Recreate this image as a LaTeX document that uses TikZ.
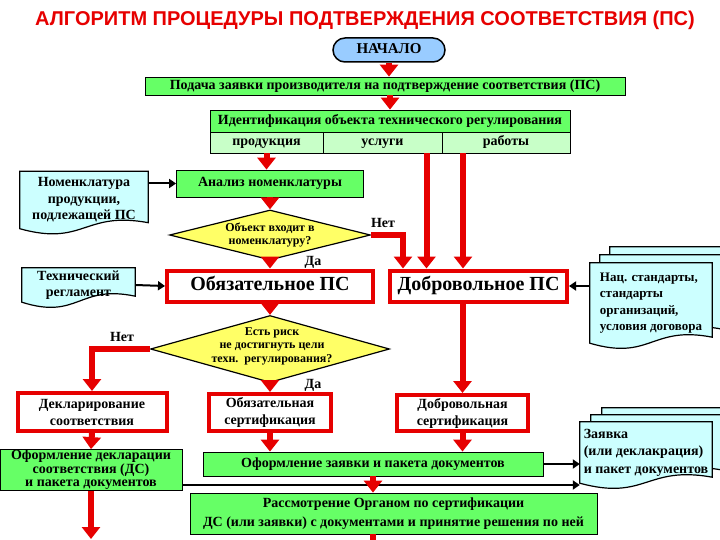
\documentclass[tikz,border=0pt]{standalone}
\usepackage{fontspec}
\setmainfont{Liberation Serif}
\newfontfamily\titlefont{Liberation Sans}
\usetikzlibrary{arrows.meta,shapes.geometric,shapes.misc,calc,backgrounds}
\definecolor{boxgreen}{RGB}{102,255,102}
\definecolor{cellgreen}{RGB}{200,255,200}
\definecolor{doccyan}{RGB}{204,255,255}
\definecolor{askyellow}{RGB}{255,255,102}
\definecolor{startblue}{RGB}{153,204,255}
\definecolor{flowred}{RGB}{230,0,0}
% document sheet behind a node: #1 node, #2 #3 shift of the sheet
\newcommand{\docsheet}[3]{%
\begin{scope}[on background layer]
\filldraw[docline] ([shift={(#2,#3)}]#1.north west) -- ([shift={(#2,#3)}]#1.north east)
  -- ([shift={(#2,#3+6pt)}]#1.south east)
  .. controls ($(#1.south)+(#2,#3+18pt)$) and ($(#1.south)+(#2,#3-18pt)$) .. ([shift={(#2,#3)}]#1.south west) -- cycle;
\end{scope}}
\begin{document}
\begin{tikzpicture}[x=1pt,y=-1pt,
% common options for boxes:
greenbox/.style = {draw, line width=0.8pt, fill=boxgreen, align=center, inner sep=0,
            font=\bfseries\fontsize{14}{15}\selectfont},
cell/.style = {greenbox, fill=cellgreen},
oneline/.style = {text height=9.5pt, text depth=3pt},
redbox/.style = {draw=flowred, line width=4pt, fill=white, align=center, inner sep=0,
            font=\bfseries\fontsize{14}{17}\selectfont},
bigred/.style = {redbox, text height=13.5pt, text depth=4pt, font=\bfseries\fontsize{20}{22}\selectfont},
docbox/.style = {align=center, inner sep=2pt, font=\bfseries\fontsize{14}{16.5}\selectfont},
docline/.style = {draw, line width=1.2pt, fill=doccyan},
% common options for the decisions:
ask/.style = {diamond, draw, line width=1.2pt, fill=askyellow, inner sep=0},
asktext/.style = {align=center, inner sep=0, font=\bfseries\fontsize{12}{13.5}\selectfont},
answer/.style = {font=\bfseries\fontsize{14}{15}\selectfont},
% common options for arrows:
redarrow/.style = {draw=flowred, line width=6pt, -{Triangle[length=12pt,width=18pt]}},
blackarrow/.style = {draw, line width=2pt, -{Triangle[length=7pt,width=9pt]}}]
\useasboundingbox (0,0) rectangle (720,540);
\node[font=\titlefont\bfseries\fontsize{20}{22}\selectfont, text=flowred] (title) at (365,20) {АЛГОРИТМ ПРОЦЕДУРЫ ПОДТВЕРЖДЕНИЯ СООТВЕТСТВИЯ (ПС)};
\node[rounded rectangle, draw, line width=1.5pt, fill=startblue, minimum width=112pt, minimum height=24pt,
      inner sep=0, text height=10pt, text depth=2pt, font=\bfseries\fontsize{15}{16}\selectfont] (start) at (389,50) {НАЧАЛО};
\node[greenbox, oneline, minimum width=480pt, minimum height=18pt] (request) at (385,86) {Подача заявки производителя на подтверждение соответствия (ПС)};
\node[greenbox, oneline, minimum width=360pt, minimum height=22pt] (ident) at (390,121) {Идентификация объекта технического регулирования};
\node[cell, oneline, minimum width=113pt, minimum height=21pt] (product) at (266.5,142.5) {продукция};
\node[cell, oneline, minimum width=119pt, minimum height=21pt] (service) at (382.5,142.5) {услуги};
\node[cell, oneline, minimum width=128pt, minimum height=21pt] (works) at (506,142.5) {работы};
\node[docbox, minimum width=128pt, minimum height=57pt] (nomen) at (84,200) {Номенклатура\\продукции,\\подлежащей ПС};
\node[greenbox, oneline, minimum width=187pt, minimum height=27pt] (analysis) at (270,183.5) {Анализ номенклатуры};
\node[ask, minimum width=201pt, minimum height=50pt] (inlist) at (270,235) {};
\node[asktext] (inlisttext) at (270,235) {Объект входит в\\номенклатуру?};
\node[bigred, minimum width=206pt, minimum height=31pt] (mandatory) at (270,286) {Обязательное ПС};
\node[bigred, minimum width=177pt, minimum height=31pt] (voluntary) at (478.5,286) {Добровольное ПС};
\node[docbox, minimum width=113pt, minimum height=34pt] (techreg) at (78.5,285) {Технический\\регламент};
\node[docbox, align=left, minimum width=122pt, minimum height=80pt, font=\bfseries\fontsize{13}{16.5}\selectfont] (standards) at (651,303) {Нац. стандарты,\\стандарты\\организаций,\\условия договора};
\node[ask, minimum width=239pt, minimum height=67pt] (risk) at (270,349) {};
\node[asktext] (risktext) at (272,346) {Есть риск\\не достигнуть цели\\техн.~~регулирования?};
\node[redbox, minimum width=149pt, minimum height=38pt] (declare) at (92,412) {Декларирование\\соответствия};
\node[redbox, minimum width=122pt, minimum height=37pt] (mandcert) at (270,412.5) {Обязательная\\сертификация};
\node[redbox, minimum width=131pt, minimum height=36pt] (volcert) at (462.5,413) {Добровольная\\сертификация};
\node[greenbox, minimum width=182pt, minimum height=41pt, font=\bfseries\fontsize{14}{13.5}\selectfont] (declpack) at (91,470) {Оформление декларации\\соответствия (ДС)\\и пакета документов};
\node[greenbox, oneline, minimum width=340pt, minimum height=24pt] (reqpack) at (373,464) {Оформление заявки и пакета документов};
\node[docbox, align=left, minimum width=132pt, minimum height=61pt, font=\bfseries\fontsize{14}{17.5}\selectfont] (package) at (646,452.5) {Заявка\\(или деклакрация)\\и пакет документов};
\node[greenbox, minimum width=407pt, minimum height=41pt, font=\bfseries\fontsize{14}{19}\selectfont] (review) at (393.5,513.5) {Рассмотрение Органом по сертификации\\ДС (или заявки) с документами и принятие решения по ней};
\coordinate (declout) at (91,539);
\coordinate (reviewout) at (373,600);
\node[answer] (no1) at (383,223) {Нет};
\node[answer] (yes1) at (313,262) {Да};
\node[answer] (no2) at (122,337) {Нет};
\node[answer] (yes2) at (313,385) {Да};
% sheets of the documents
\docsheet{nomen}{0pt}{0pt}
\docsheet{techreg}{0pt}{0pt}
\docsheet{standards}{20pt}{16pt}
\docsheet{standards}{10pt}{8pt}
\docsheet{standards}{0pt}{0pt}
\docsheet{package}{22pt}{14pt}
\docsheet{package}{11pt}{7pt}
\docsheet{package}{0pt}{0pt}
% arrows
\draw[redarrow] (start.south) -- (start.south |- request.north);
\draw[redarrow] (ident.north |- request.south) -- (ident.north);
\draw[redarrow] (product.south) -- (product.south |- analysis.north);
\draw[redarrow] ([xshift=44pt]service.south) -- ([xshift=44pt]service.south |- voluntary.north);
\draw[redarrow] ([xshift=-43pt]works.south) -- ([xshift=-43pt]works.south |- voluntary.north);
\draw[blackarrow] (nomen.east |- analysis.west) -- (analysis.west);
\draw[redarrow] (analysis.south) -- (inlist.north);
\draw[redarrow] (inlist.east) -| ([xshift=15pt]voluntary.north west);
\draw[redarrow] (inlist.south) -- (mandatory.north);
\draw[blackarrow] (techreg.east) -- (mandatory.west);
\draw[blackarrow] (standards.west |- voluntary.east) -- (voluntary.east);
\draw[redarrow] (mandatory.south) -- (risk.north);
\draw[redarrow] (risk.west) -| (declare.north);
\draw[redarrow] (risk.south) -- (mandcert.north);
\draw[redarrow] (volcert.north |- voluntary.south) -- (volcert.north);
\draw[redarrow] (declare.south) -- (declpack.north);
\draw[redarrow] (mandcert.south) -- (mandcert.south |- reqpack.north);
\draw[redarrow] (volcert.south) -- (volcert.south |- reqpack.north);
\draw[blackarrow] (reqpack.east) -- (reqpack.east -| package.west);
\draw[blackarrow] ([yshift=-15pt]declpack.east) -- ([yshift=-15pt]declpack.east -| package.west);
\draw[redarrow] (reqpack.south) -- (reqpack.south |- review.north);
\draw[redarrow] (reviewout |- review.south) -- (reviewout);
\draw[redarrow] (declpack.south) -- (declout);
\end{tikzpicture}
\end{document}
